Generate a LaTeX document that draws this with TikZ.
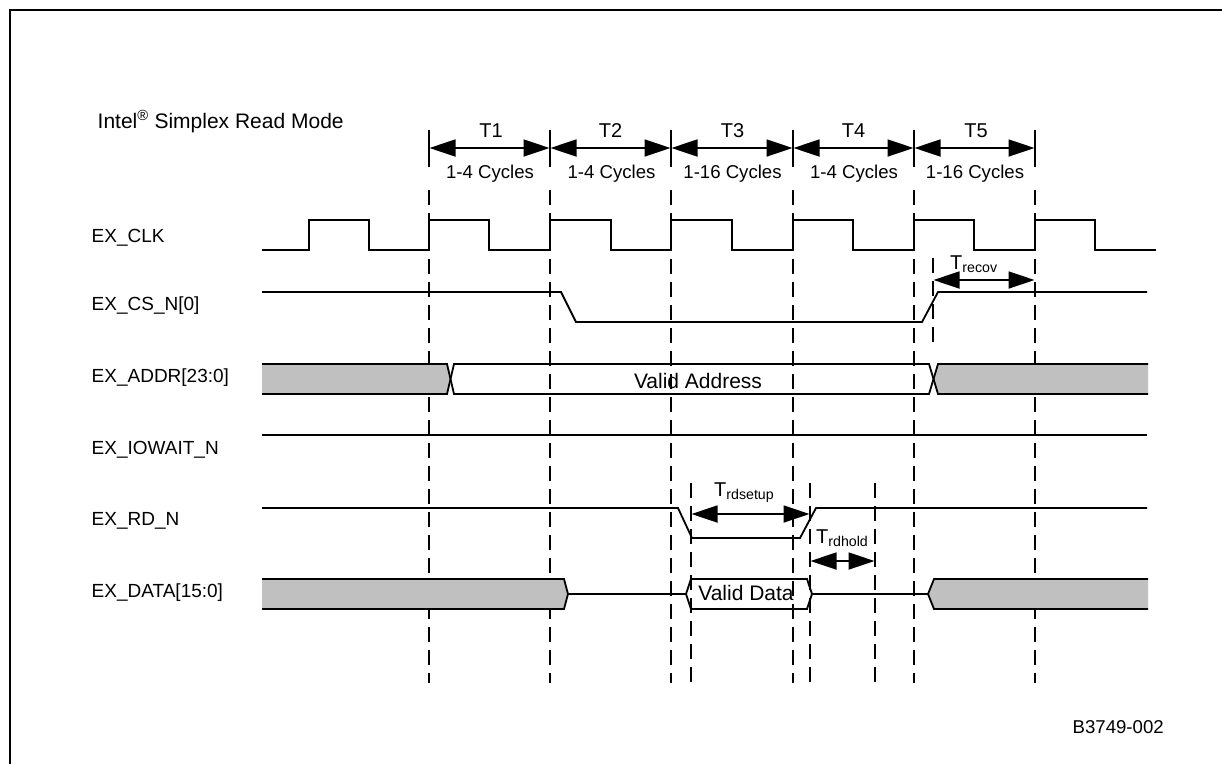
\documentclass[tikz,border=0pt]{standalone}
\usepackage{fontspec}
\setmainfont{Liberation Sans}
\usetikzlibrary{arrows.meta}
\definecolor{busgray}{RGB}{192,192,192}
\tikzset{
  x=1pt,y=-1pt,
  sig/.style={line width=1.8pt,line join=miter},
  solidtick/.style={line width=1.5pt},
  dashline/.style={line width=2.7pt,dash pattern=on 15pt off 8pt},
  span/.style={line width=1.8pt,{Triangle[length=26pt,width=17pt]}-{Triangle[length=26pt,width=17pt]},shorten <=0.5pt,shorten >=0.5pt},
  txt/.style={font=\fontsize{18.6pt}{20pt}\selectfont,inner sep=0pt,text=black,anchor=base},
  lab/.style={txt,font=\fontsize{19pt}{20pt}\selectfont,anchor=base west},
  big/.style={txt,font=\fontsize{21pt}{22pt}\selectfont},
  per/.style={txt,font=\fontsize{20pt}{22pt}\selectfont},
  bus/.style={fill=busgray,draw=none},
}
\newcommand{\tsub}[1]{T\raisebox{-3pt}{\fontsize{14.2pt}{14pt}\selectfont #1}}
\begin{document}
\begin{tikzpicture}
\useasboundingbox (0,0) rectangle (1222,764);
\fill[white] (0,0) rectangle (1222,764);
\draw[line width=2.3pt] (10,764) -- (10,10) -- (1222,10);
% dashed guides
\foreach \n/\xx in {a/429,b/550,c/671,d/793,e/914,f/1035}{
  \coordinate (top\n) at (\xx,190);
  \coordinate (bot\n) at (\xx,683);
  \draw[dashline] (top\n) -- (bot\n);
  \coordinate (tt\n) at (\xx,130);
  \coordinate (tb\n) at (\xx,167);
  \draw[solidtick] (tt\n) -- (tb\n);
}
\foreach \n/\xx in {g/691,h/810,i/875}{
  \coordinate (top\n) at (\xx,483);
  \coordinate (bot\n) at (\xx,683);
  \draw[dashline] (top\n) -- (bot\n);
}
\coordinate (topj) at (933,258);
\coordinate (botj) at (933,342);
\draw[dashline] (topj) -- (botj);
% span arrows
\draw[span] (tta|-0,148) -- (ttb|-0,148);
\draw[span] (ttb|-0,148) -- (ttc|-0,148);
\draw[span] (ttc|-0,148) -- (ttd|-0,148);
\draw[span] (ttd|-0,148) -- (tte|-0,148);
\draw[span] (tte|-0,148) -- (ttf|-0,148);
\draw[span] (topj|-0,280) -- (topf|-0,280);
\draw[span] (topg|-0,514) -- (toph|-0,514);
\draw[span] (toph|-0,561) -- (topi|-0,561);
% period texts
\foreach \xx/\yy/\a/\b in {491/490/T1/1-4 Cycles,610.5/611.5/T2/1-4 Cycles,732.5/732.5/T3/1-16 Cycles,853.5/854/T4/1-4 Cycles,976/975/T5/1-16 Cycles}{
  \node[per] at (\xx,137) {\a};
  \node[txt] at (\yy,178) {\b};
}
% signal names
\node[lab,font=\fontsize{21pt}{22pt}\selectfont] (title) at (97.5,128) {Intel\textsuperscript{\textregistered} Simplex Read Mode};
\node[lab] (clk) at (91.5,242) {EX\_CLK};
\node[lab] (cs) at (91.5,310) {EX\_CS\_N[0]};
\node[lab] (addr) at (91.5,382) {EX\_ADDR[23:0]};
\node[lab] (iow) at (91.5,454) {EX\_IOWAIT\_N};
\node[lab] (rd) at (91.5,525) {EX\_RD\_N};
\node[lab] (data) at (91.5,597) {EX\_DATA[15:0]};
\node[txt,anchor=base west] (fig) at (1072.5,733) {B3749-002};
% CLK
\draw[sig] (262,250) -- (309,250) |- (369,220) |- (429,250) |- (489,220) |- (550,250) |- (611,220) |- (671,250) |- (732,220) |- (793,250) |- (853,220) |- (914,250) |- (974,220) |- (1035,250) |- (1095,220) |- (1156,250);
% CS
\draw[sig] (262,292) -- (561,292) -- (576,322) -- (922,322) -- (938,292) -- (1147,292);
% ADDR
\fill[bus] (262,364) -- (447,364) -- (451,379) -- (447,394) -- (262,394) -- cycle;
\fill[bus] (1148,364) -- (938,364) -- (934,379) -- (938,394) -- (1148,394) -- cycle;
\draw[sig] (262,364) -- (447,364) -- (454,394) -- (929,394) -- (938,364) -- (1148,364);
\draw[sig] (262,394) -- (447,394) -- (454,364) -- (929,364) -- (938,394) -- (1148,394);
\node[big] (va) at (698,388) {Valid Address};
% IOWAIT
\draw[sig] (262,435) -- (1147,435);
% RD
\draw[sig] (262,508) -- (678,508) -- (692,538) -- (800,538) -- (816,508) -- (1147,508);
% DATA
\fill[bus] (262,579) -- (564,579) -- (568,594) -- (564,609) -- (262,609) -- cycle;
\fill[bus] (1148,579) -- (934,579) -- (928,594) -- (934,609) -- (1148,609) -- cycle;
\draw[sig] (262,579) -- (564,579) -- (568,594) -- (564,609) -- (262,609);
\draw[sig] (568,594) -- (686,594) -- (691,579) -- (807,579) -- (812,594) -- (807,609) -- (691,609) -- (686,594);
\draw[sig] (812,594) -- (928,594) -- (934,579) -- (1148,579);
\draw[sig] (928,594) -- (934,609) -- (1148,609);
\node[big] (vd) at (746,600.5) {Valid Data};
% subscripts
\node[per,anchor=base west] (t1) at (950,269) {\tsub{recov}};
\node[per,anchor=base west] (t2) at (714,496) {\tsub{rdsetup}};
\node[per,anchor=base west] (t3) at (816,543) {\tsub{rdhold}};
\end{tikzpicture}
\end{document}
